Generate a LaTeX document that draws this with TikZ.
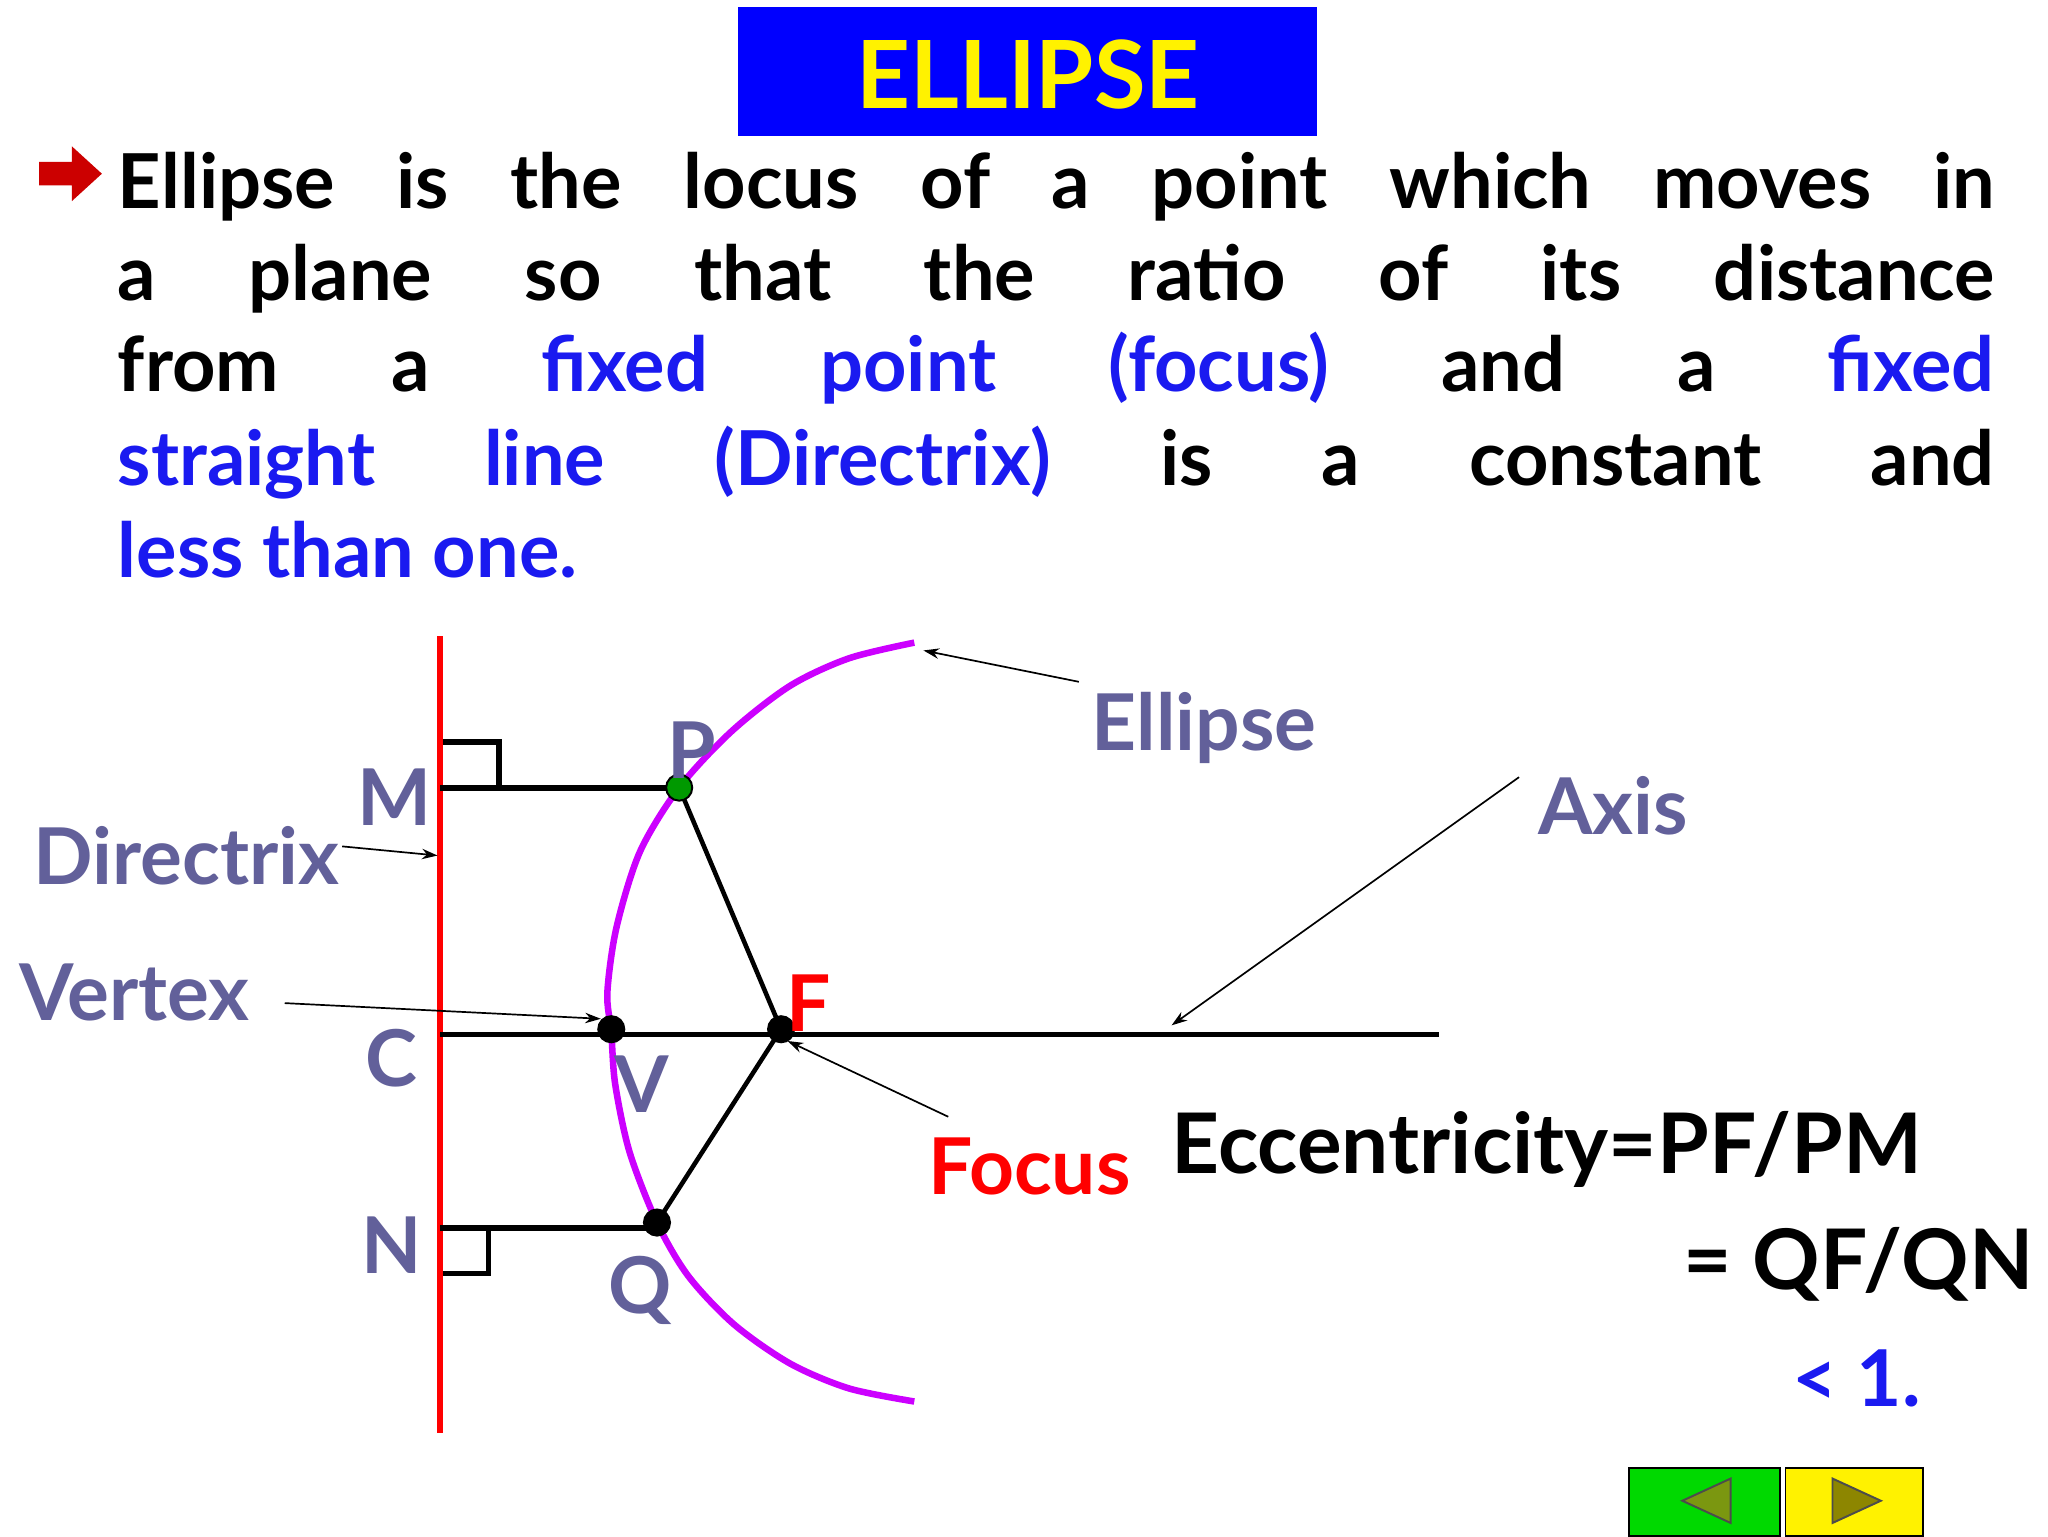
\documentclass[tikz,border=0pt]{standalone}
\usepackage{fontspec}
\setmainfont{Lato}
\usetikzlibrary{arrows.meta}
\definecolor{lab}{HTML}{62609A}
\definecolor{mag}{HTML}{CC00FF}
\definecolor{tblue}{HTML}{1A1AF0}
\tikzset{
 lbl/.style={font=\fontsize{60}{62}\selectfont\bfseries, text=lab, inner sep=0},
 body/.style={font=\fontsize{58}{60}\selectfont\bfseries, anchor=base west, inner sep=0},
 geo/.style={line width=4.5pt, black},
 ptr/.style={line width=1.3pt, -{Stealth[length=12pt,width=8pt]}},
 dot/.style={circle, fill=black, draw=black, line width=1.5pt, minimum size=20pt, inner sep=0}
}
\newcommand{\blu}[1]{\textcolor{tblue}{#1}}
\begin{document}
\begin{tikzpicture}[x=1pt,y=-1pt]
\useasboundingbox (0,0) rectangle (1568,1176);
\fill[white] (0,0) rectangle (1568,1176);
% title
\fill[blue] (565,5) rectangle (1008,104);
\node[font=\fontsize{72}{74}\selectfont\bfseries, text=yellow] (title) at (787,57) {ELLIPSE};
% bullet arrow
\fill[red!80!black] (30,124) -- (55,124) -- (55,112) -- (78,133) -- (55,154) -- (55,142) -- (30,142) -- cycle;
% text
\node[body] (l1) at (90,160) {\hbox to 1437pt{Ellipse\hfill is\hfill the\hfill locus\hfill of\hfill a\hfill point\hfill which\hfill moves\hfill in}};
\node[body] (l2) at (90,230) {\hbox to 1437pt{a\hfill plane\hfill so\hfill that\hfill the\hfill ratio\hfill of\hfill its\hfill distance}};
\node[body] (l3) at (90,300) {\hbox to 1437pt{from\hfill a\hfill \blu{fixed}\hfill \blu{point}\hfill \blu{(focus)}\hfill and\hfill a\hfill \blu{fixed}}};
\node[body] (l4) at (90,372) {\hbox to 1437pt{\blu{straight}\hfill \blu{line}\hfill \blu{(Directrix)}\hfill is\hfill a\hfill constant\hfill and}};
\node[body] (l5) at (90,442) {\blu{less than one.}};
% geometry
\coordinate (P) at (520,603);
\coordinate (V) at (468,788);
\coordinate (F) at (598,788);
\coordinate (Q) at (503,936);
\coordinate (M) at (337,603);
\coordinate (N) at (337,940);
\coordinate (C) at (337,792);
\coordinate (AxE) at (1102,792);
\draw[red, line width=5pt] (337,487) -- (337,1097);
\draw[geo] (C) -- (AxE);
\draw[mag, line width=5pt] plot[smooth] coordinates {(700,492) (650,504) (605,525) (560,560) (520,603) (490,652) (472,710) (465,760) (468,790) (471,830) (482,882) (503,936) (527,977) (562,1014) (605,1044) (650,1063) (700,1073)};
\draw[geo] (M) -- (P);
\draw[geo] (N) -- (503,940);
\draw[line width=4pt] (339,568) -- (382,568) -- (382,603);
\draw[line width=4pt] (339,975) -- (374,975) -- (374,940);
\draw[line width=3.5pt] (P) -- (F) -- (Q);
\node[dot, fill=green!60!black] (dP) at (P) {};
\node[dot] (dV) at (V) {};
\node[dot] (dF) at (F) {};
\node[dot] (dQ) at (Q) {};
% labels
\node[lbl] (tM) at (302,610) {M};
\node[lbl] (tP) at (530,574) {P};
\node[lbl] (tDir) at (143,655) {Directrix};
\node[lbl] (tVer) at (103,760) {Vertex};
\node[lbl] (tC) at (300,810) {C};
\node[lbl] (tV) at (491,830) {V};
\node[lbl] (tN) at (300,953) {N};
\node[lbl] (tQ) at (490,988) {Q};
\node[lbl] (tEl) at (922,557) {Ellipse};
\node[lbl] (tAx) at (1235,617) {Axis};
\node[lbl, text=red] (tF) at (619,768) {F};
\node[lbl, text=red] (tFo) at (788,893) {Focus};
\node[lbl, text=black, anchor=west, font=\fontsize{64}{66}\selectfont\bfseries] (tE1) at (897,880) {Eccentricity=PF/PM};
\node[lbl, text=black, anchor=east, font=\fontsize{64}{66}\selectfont\bfseries] (tE2) at (1557,968) {= QF/QN};
\node[lbl, text=tblue, anchor=west] (tE3) at (1372,1055) {< 1.};
% pointers
\coordinate (aEl) at (707,498);
\coordinate (aAx) at (897,785);
\coordinate (aDir) at (335,655);
\coordinate (aVer) at (460,780);
\coordinate (aFo) at (603,797);
\draw[ptr] (826,522) -- (aEl);
\draw[ptr] (1163,595) -- (aAx);
\draw[ptr] (262,648) -- (aDir);
\draw[ptr] (218,768) -- (aVer);
\draw[ptr] (726,855) -- (aFo);
% nav buttons
\draw[fill=green!85!black, line width=1.5pt] (1247,1124) rectangle (1363,1176);
\draw[fill=yellow, line width=1.5pt] (1367,1124) rectangle (1472,1176);
\draw[fill=olive!70!green, draw=black!70, line width=1.5pt] (1325,1132) -- (1325,1166) -- (1288,1149) -- cycle;
\draw[fill=olive, draw=black!70, line width=1.5pt] (1403,1132) -- (1403,1166) -- (1440,1149) -- cycle;
\end{tikzpicture}
\end{document}
